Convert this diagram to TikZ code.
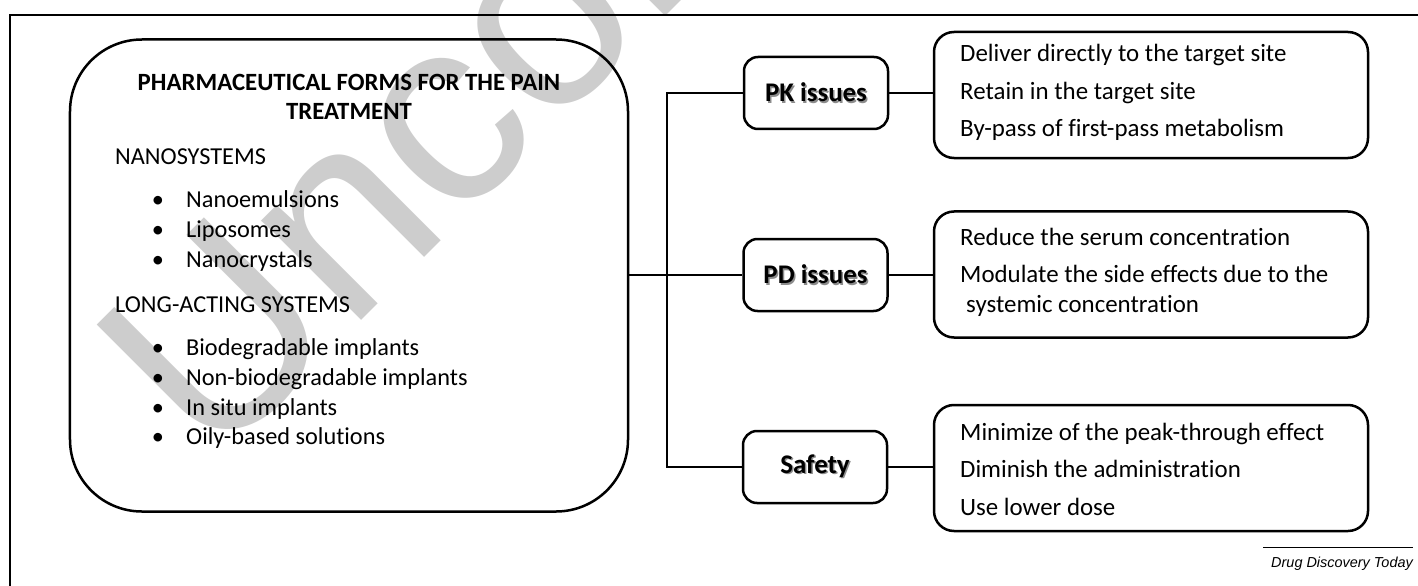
\documentclass[tikz,border=0pt]{standalone}
\usepackage{fontspec}
\setmainfont{Carlito}[Ligatures={NoCommon}]
\newfontfamily\arialfont{Liberation Sans}
\definecolor{wmgray}{RGB}{205,205,205}
\newcommand\shtext[1]{\makebox[0pt][l]{\hspace{1.5bp}\raisebox{-1.5bp}{\color{black!45}#1}}#1}
\tikzset{
  outerframe/.style={line width=2bp},
  mainbox/.style={draw, line width=2.5bp, rounded corners=72bp, minimum width=558bp, minimum height=472bp, inner sep=0pt},
  issuebox/.style={draw, line width=2.5bp, rounded corners=14bp, minimum width=144bp, minimum height=72bp, inner sep=0pt, font=\fontsize{27}{30}\selectfont\bfseries},
  detailbox/.style={draw, line width=2.5bp, rounded corners=20bp, minimum width=434bp, minimum height=126bp, inner sep=0pt},
  link/.style={line width=2.2bp},
  txt/.style={anchor=base west, inner sep=0pt, font=\fontsize{24.4}{28}\selectfont},
  rtxt/.style={anchor=base west, inner sep=0pt, font=\fontsize{25}{28}\selectfont},
  ttl/.style={anchor=base, inner sep=0pt, font=\fontsize{24.9}{28}\selectfont\bfseries},
  bul/.style={anchor=base, inner sep=0pt, font=\fontsize{24.4}{28}\selectfont},
}
\begin{document}
\begin{tikzpicture}[x=1bp,y=1bp]
\useasboundingbox (0,0) rectangle (1418,-586);
% watermark
\begin{scope}
\clip (0,0) rectangle (1418,-586);
\node[anchor=base west, inner sep=0pt, rotate=45, text=wmgray, font=\arialfont\fontsize{268}{268}\selectfont] (wm) at (212,-470) {Uncorrected proof};
\end{scope}
% outer frame
\draw[outerframe] (10,-590) -- (10,-15) -- (1420,-15);
% main box
\node[mainbox] (main) at (349,-275.5) {};
\node[ttl] (t1) at (349,-91) {PHARMACEUTICAL FORMS FOR THE PAIN};
\node[ttl] (t2) at (349,-120) {TREATMENT};
\node[txt] (nano) at (115,-165) {NANOSYSTEMS};
\node[bul] (b1) at (158,-208) {•};
\node[txt] (n1) at (186,-208) {Nanoemulsions};
\node[bul] (b2) at (158,-237.5) {•};
\node[txt] (n2) at (186,-237.5) {Liposomes};
\node[bul] (b3) at (158,-267) {•};
\node[txt] (n3) at (186,-267) {Nanocrystals};
\node[txt] (long) at (115,-312) {LONG-ACTING SYSTEMS};
\node[bul] (b4) at (158,-355) {•};
\node[txt] (l1) at (186,-355) {Biodegradable implants};
\node[bul] (b5) at (158,-385) {•};
\node[txt] (l2) at (186,-385) {Non-biodegradable implants};
\node[bul] (b6) at (158,-415) {•};
\node[txt] (l3) at (186,-415) {In situ implants};
\node[bul] (b7) at (158,-444) {•};
\node[txt] (l4) at (186,-444) {Oily-based solutions};
% issue boxes
\node[issuebox] (pk) at (816,-93) {\shtext{PK issues}};
\node[issuebox] (pd) at (815.5,-275) {\shtext{PD issues}};
\node[issuebox] (sf) at (815,-467) {\shtext{Safety}};
% detail boxes
\node[detailbox] (pkd) at (1151,-95) {};
\node[detailbox] (pdd) at (1151,-274.5) {};
\node[detailbox] (sfd) at (1151,-468) {};
\node[rtxt] (d1) at (960,-62) {Deliver directly to the target site};
\node[rtxt] (d2) at (960,-100) {Retain in the target site};
\node[rtxt] (d3) at (960,-137) {By-pass of first-pass metabolism};
\node[rtxt] (e1) at (960,-245) {Reduce the serum concentration};
\node[rtxt] (e2) at (960,-282) {Modulate the side effects due to the};
\node[rtxt] (e3) at (966,-312) {systemic concentration};
\node[rtxt] (s1) at (960,-440) {Minimize of the peak-through effect};
\node[rtxt] (s2) at (960,-477) {Diminish the administration};
\node[rtxt] (s3) at (960,-515) {Use lower dose};
% connectors
\coordinate (spine) at (667,-275);
\draw[link] (main.east |- pd.west) -- (pd.west);
\draw[link] (pk.west) -- (pk.west -| spine) -- (sf.west -| spine) -- (sf.west);
\draw[link] (pk.east) -- (pk.east -| pkd.west);
\draw[link] (pd.east) -- (pd.east -| pdd.west);
\draw[link] (sf.east) -- (sf.east -| sfd.west);
% footer
\coordinate (fl) at (1263,-547);
\coordinate (fr) at (1413,-547);
\draw[line width=1bp] (fl) -- (fr);
\node[anchor=base east, inner sep=0pt, font=\arialfont\itshape\fontsize{14.5}{16}\selectfont] (credit) at (1413,-567) {Drug Discovery Today};
\end{tikzpicture}
\end{document}
